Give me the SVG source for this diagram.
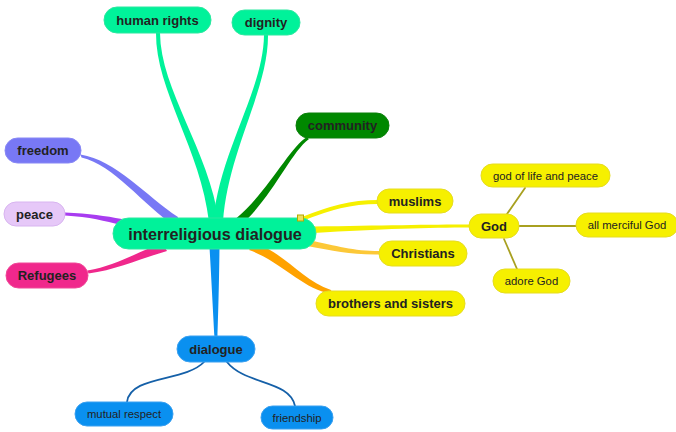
<svg xmlns="http://www.w3.org/2000/svg" width="676" height="432" viewBox="0 0 676 432">
<style>
text{font-family:"Liberation Sans",Arial,Helvetica,sans-serif;fill:#222;text-anchor:middle}
.b{font-weight:bold;font-size:13px}
.c{font-weight:bold;font-size:16.2px}
.s{font-size:11.3px}
.g{fill:#00f29a;stroke:#2be8a0;stroke-width:1}
.y{fill:#f6f000;stroke:#e6dc20;stroke-width:1}
.bl{fill:#0a90f0;stroke:#3aa0f0;stroke-width:1}
.thin{fill:none;stroke-width:1.8;stroke-linecap:round}
</style>
<rect width="676" height="432" fill="#ffffff"/>
<g id="connectors">
<path d="M156,33 C155.5,90 201,150 209,222 L219,222 C209,150 160.5,90 160,33 Z" fill="#00f29a"/>
<path d="M264,35 C263.5,90 220,150 213,222 L223,222 C228,150 268.5,90 268,35 Z" fill="#00f29a"/>
<path d="M308.8,139.3 C291,152 272,198 240.6,225.1 L235.4,218.9 C268,192 289,148 307.2,136.7 Z" fill="#008800"/>
<path d="M80.5,154.5 C116,160 146,196 178,217 L176,227 C142,204 114,165 81.5,157.5 Z" fill="#7878f5"/>
<path d="M65,212.5 C90,213.5 105,216 122,219 L121,225 C105,221 90,217 65,215.5 Z" fill="#a83cf0"/>
<path d="M87.5,270.5 C115,266 138,252 162,243 L167,251 C142,258 116,270 88.5,273.5 Z" fill="#f0288c"/>
<path d="M302,219 C330,208 350,202 378,202" fill="none" stroke="#f6f000" stroke-width="4"/>
<path d="M314,226.5 C380,225.5 430,224.5 470,224.5 L470,227.5 C430,227.5 380,229 314,233 Z" fill="#f6f000"/>
<path d="M308,240 C338,246 352,251 380,251 L380,254.5 C350,255 335,251 307,246 Z" fill="#fcc838"/>
<path d="M255,243 C286,254 303,281 331,290 L332,294 C302,289 282,262 249,250 Z" fill="#ffa200"/>
<path d="M209.5,247 C212,290 213.5,320 214.5,337 L217.5,337 C218,320 219,290 219.5,247 Z" fill="#0a90f0"/>
<path class="thin" stroke="#a8a020" d="M507,214 L525,188"/>
<path class="thin" stroke="#a8a020" d="M519,226 L576,226"/>
<path class="thin" stroke="#a8a020" d="M504,239 L517,269"/>
<path class="thin" stroke="#1560a8" d="M204,362 C185,382 130,375 127,402"/>
<path class="thin" stroke="#1560a8" d="M227,362 C245,385 290,380 295,406"/>
</g>
<g id="center"><rect class="g" x="113" y="218" width="203" height="31" rx="15.5"/><text class="c" x="215" y="239.5">interreligious dialogue</text></g>
<rect x="297.5" y="215" width="6" height="6" fill="#ece060" stroke="#b8a800" stroke-width="1"/>
<g id="human-rights"><rect class="g" x="104" y="7" width="107" height="26" rx="13"/><text class="b" x="157.5" y="24.5">human rights</text></g>
<g id="dignity"><rect class="g" x="232" y="10" width="68" height="25" rx="12.5"/><text class="b" x="266" y="27">dignity</text></g>
<g id="community"><rect x="296" y="113" width="93" height="25" rx="12.5" fill="#008800" stroke="#0a800a"/><text class="b" x="342.5" y="130">community</text></g>
<g id="freedom"><rect x="5" y="138" width="76" height="25" rx="12.5" fill="#7878f5" stroke="#8888f5"/><text class="b" x="43" y="155">freedom</text></g>
<g id="peace"><rect x="4" y="202" width="61" height="24" rx="12" fill="#e6c8f8" stroke="#d8b4f0"/><text class="b" x="34.5" y="218.5">peace</text></g>
<g id="refugees"><rect x="6" y="263" width="82" height="25" rx="12.5" fill="#f0288c" stroke="#f04898"/><text class="b" x="47" y="280">Refugees</text></g>
<g id="muslims"><rect class="y" x="377" y="189" width="76" height="24" rx="12"/><text class="b" x="415" y="205.5">muslims</text></g>
<g id="christians"><rect class="y" x="379" y="241" width="88" height="25" rx="12.5"/><text class="b" x="423" y="258">Christians</text></g>
<g id="brothers"><rect class="y" x="316" y="291" width="149" height="25" rx="12.5"/><text class="b" x="390.5" y="308">brothers and sisters</text></g>
<g id="god"><rect class="y" x="469" y="214" width="50" height="24" rx="12"/><text class="b" x="494" y="230.5">God</text></g>
<g id="god-life"><rect class="y" x="481" y="164" width="129" height="23" rx="11.5"/><text class="s" x="545.5" y="179.5">god of life and peace</text></g>
<g id="merciful"><rect class="y" x="576" y="213" width="102" height="24" rx="12"/><text class="s" x="627" y="229">all merciful God</text></g>
<g id="adore"><rect class="y" x="493" y="269" width="77" height="24" rx="12"/><text class="s" x="531.5" y="285">adore God</text></g>
<g id="dialogue"><rect class="bl" x="177" y="336" width="78" height="26" rx="13"/><text class="b" x="216" y="353.5">dialogue</text></g>
<g id="mutual"><rect class="bl" x="75" y="402" width="98" height="24" rx="12"/><text class="s" x="124" y="418">mutual respect</text></g>
<g id="friendship"><rect class="bl" x="261" y="406" width="72" height="23" rx="11.5"/><text class="s" x="297" y="421.5">friendship</text></g>
</svg>
